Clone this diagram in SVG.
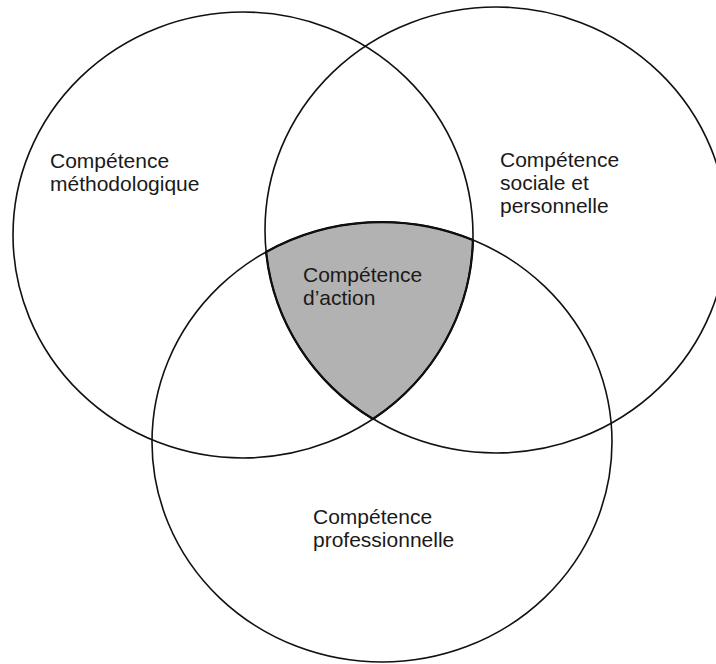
<svg xmlns="http://www.w3.org/2000/svg" width="716" height="664" viewBox="0 0 716 664">
<style>
.c{fill:none;stroke:#111;stroke-width:1.6}
.t{font-family:"Liberation Sans",Arial,sans-serif;font-size:21px;fill:#1a1a1a}
</style>
<rect width="716" height="664" fill="#fff"/>
<g id="action-fill">
<path d="M266.1,252 A230,220 0 0 1 472.9,240 A230,223 0 0 1 373,419 A230,223 0 0 1 266.1,252 Z" fill="#b2b2b2" stroke="#000" stroke-width="2.2"/>
</g>
<g id="methodologique">
<ellipse class="c" cx="243" cy="235" rx="230" ry="223"/>
<text class="t" x="50" y="168">Compétence</text>
<text class="t" x="50" y="191">méthodologique</text>
</g>
<g id="sociale">
<ellipse class="c" cx="496" cy="230" rx="231" ry="223"/>
<text class="t" x="500" y="167">Compétence</text>
<text class="t" x="500" y="190">sociale et</text>
<text class="t" x="500" y="213">personnelle</text>
</g>
<g id="professionnelle">
<ellipse class="c" cx="382" cy="442" rx="230" ry="220"/>
<text class="t" x="313" y="524">Compétence</text>
<text class="t" x="313" y="547">professionnelle</text>
</g>
<g id="action">
<text class="t" x="303" y="282">Compétence</text>
<text class="t" x="303" y="305">d’action</text>
</g>
<g id="connectors"/>
</svg>
